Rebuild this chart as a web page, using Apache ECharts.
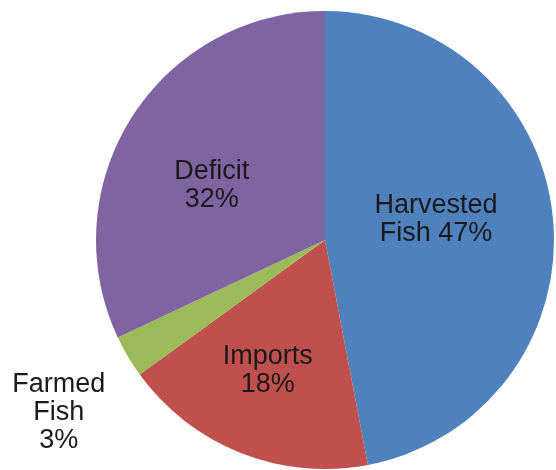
<!DOCTYPE html>
<html>
<head>
<meta charset="utf-8">
<script src="https://cdn.jsdelivr.net/npm/echarts@6/dist/echarts.min.js"></script>
<style>
  html, body { margin: 0; padding: 0; background: #fff; }
  #chart { width: 556px; height: 470px; }
</style>
</head>
<body>
<div id="chart"></div>
<script>
// slices, clockwise from 12 o'clock
const categories = ['Harvested\nFish', 'Imports', 'Farmed\nFish', 'Deficit'];
const shares = [47, 18, 3, 32];
const colors = ['#4f81bd', '#c0504d', '#9bbb59', '#8064a2'];

// nudges so the labels sit where the original put them
const labelShift = [
  [-6, -9],
  [-14, 21],
  [-165, 113],
  [-14, 9],
];

const chart = echarts.init(document.getElementById('chart'));

chart.setOption({
  animation: false,
  series: [
    {
      type: 'pie',
      center: [325, 240],
      radius: 229,
      startAngle: 90,
      clockwise: true,
      avoidLabelOverlap: false,
      itemStyle: { borderWidth: 0 },
      label: {
        show: true,
        position: 'inside',
        color: '#1a1a1a',
        fontFamily: '"Liberation Sans", Arial, sans-serif',
        fontSize: 27,
        lineHeight: 28,
        formatter: (p) =>
          p.dataIndex === 0 ? 'Harvested\nFish ' + p.value + '%' : p.name + '\n' + p.value + '%',
      },
      labelLine: { show: false },
      labelLayout: (p) => ({ dx: labelShift[p.dataIndex][0], dy: labelShift[p.dataIndex][1] }),
      emphasis: { disabled: true },
      data: categories.map((name, i) => ({
        name,
        value: shares[i],
        itemStyle: { color: colors[i] },
      })),
    },
  ],
});
</script>
</body>
</html>
